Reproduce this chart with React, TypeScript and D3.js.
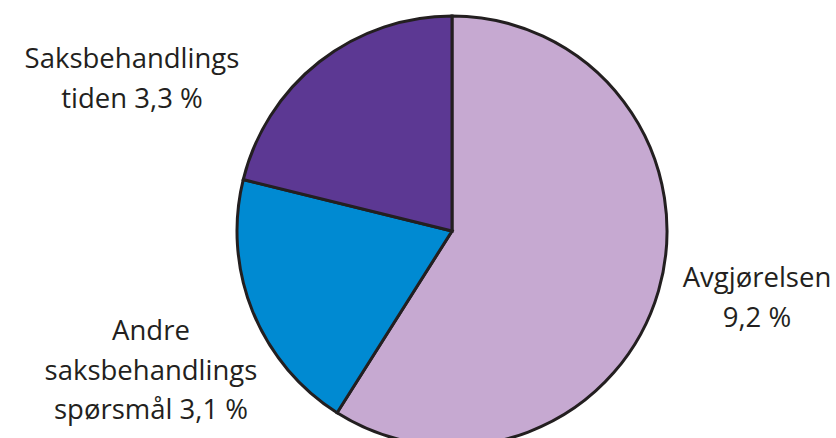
import React from "react";
import * as d3 from "d3";

const categories = ["Avgjørelsen", "Andre saksbehandlings spørsmål", "Saksbehandlings tiden"];
const values = [9.2, 3.1, 3.3];
const colors = ["#C6A9D1", "#008AD2", "#5C3893"];
const labelLines = [
  ["Avgjørelsen", "9,2 %"],
  ["Andre", "saksbehandlings", "spørsmål 3,1 %"],
  ["Saksbehandlings", "tiden 3,3 %"],
];
const labelPos = [
  { x: 757, y: 287 },
  { x: 151, y: 340 },
  { x: 132, y: 68 },
];

export default function App() {
  const W = 836, H = 438;
  const cx = 452, cy = 231, r = 215;
  const pie = d3.pie<number>().sort(null).value((d) => d)(values);
  const arc = d3.arc<d3.PieArcDatum<number>>().innerRadius(0).outerRadius(r);
  return (
    <svg width={W} height={H} style={{ position: "absolute", left: 0, top: 0 }}>
      <g transform={`translate(${cx},${cy})`}>
        {pie.map((p, i) => (
          <path key={categories[i]} d={arc(p) || ""} fill={colors[i]} stroke="#231F20" strokeWidth={3} strokeLinejoin="miter" />
        ))}
      </g>
      {labelLines.map((lines, i) => (
        <text key={i} textAnchor="middle" fontFamily="'Open Sans', sans-serif" fontSize={27.5} fill="#231F20">
          {lines.map((l, j) => (
            <tspan key={j} x={labelPos[i].x} y={labelPos[i].y + j * 39.5}>{l}</tspan>
          ))}
        </text>
      ))}
    </svg>
  );
}
